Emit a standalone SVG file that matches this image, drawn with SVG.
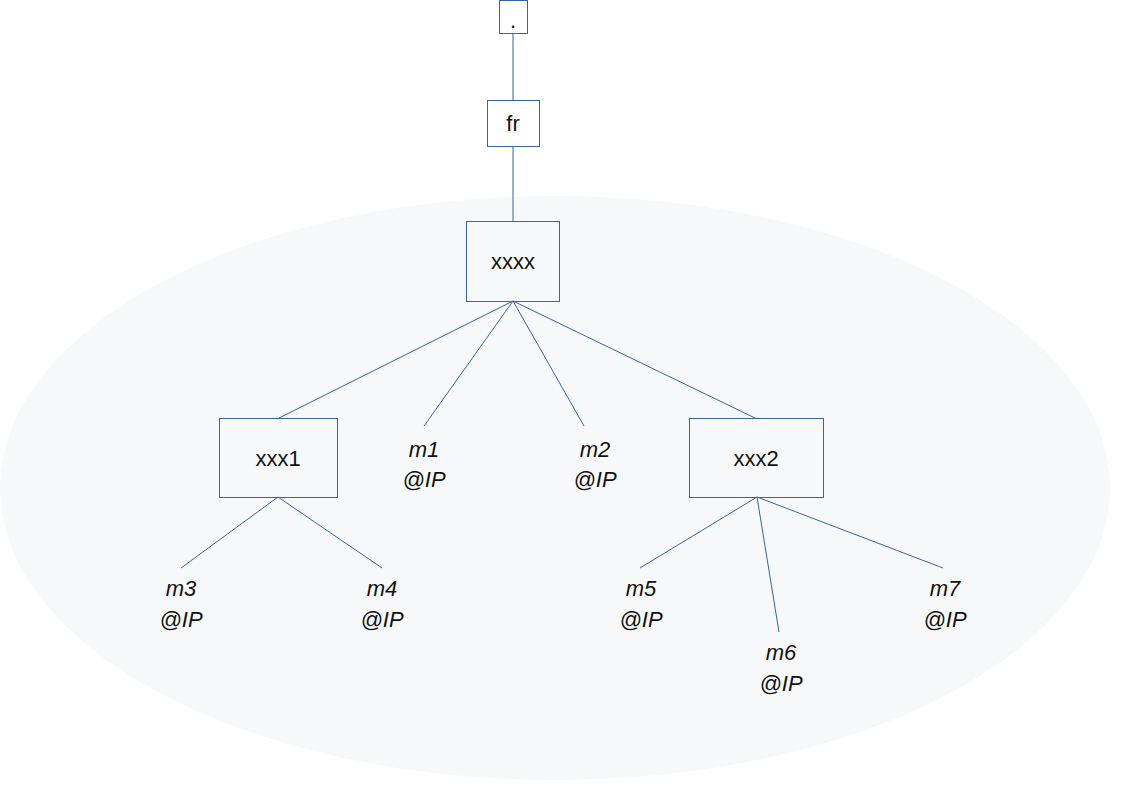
<svg xmlns="http://www.w3.org/2000/svg" width="1123" height="794" viewBox="0 0 1123 794">
<style>
.b{fill:#fff;stroke:#3465a4;stroke-width:1}
.bt{fill:none;stroke:#3465a4;stroke-width:1}
.t{font-family:"Liberation Sans",Arial,sans-serif;font-size:22px;fill:#111;text-anchor:middle}
.i{font-style:italic}
#edges line{stroke:#3465a4;stroke-width:1}
</style>
<rect width="1123" height="794" fill="#fff"/>
<ellipse cx="555" cy="488" rx="555" ry="292" fill="#f7f8fa"/>
<g id="edges">
<line x1="513" y1="33" x2="513" y2="100"/>
<line x1="513" y1="146" x2="513" y2="221"/>
<line x1="513" y1="301" x2="279" y2="418"/>
<line x1="513" y1="301" x2="424" y2="426"/>
<line x1="513" y1="301" x2="584" y2="426"/>
<line x1="513" y1="301" x2="755" y2="418"/>
<line x1="278" y1="497" x2="181" y2="568"/>
<line x1="278" y1="497" x2="382" y2="568"/>
<line x1="757" y1="497" x2="640" y2="568"/>
<line x1="757" y1="497" x2="779" y2="632"/>
<line x1="757" y1="497" x2="943" y2="568"/>
</g>
<g id="root"><rect class="b" x="499.5" y="0.5" width="28" height="33"/><text class="t" x="513" y="28">.</text></g>
<g id="fr"><rect class="b" x="487.5" y="100.5" width="52" height="46"/><text class="t" x="513" y="131">fr</text></g>
<g id="xxxx"><rect class="bt" x="466.5" y="221.5" width="93" height="80"/><text class="t" x="513" y="269">xxxx</text></g>
<g id="xxx1"><rect class="bt" x="219.5" y="418.5" width="118" height="79"/><text class="t" x="278" y="466">xxx1</text></g>
<g id="xxx2"><rect class="bt" x="689.5" y="418.5" width="134" height="79"/><text class="t" x="756" y="466">xxx2</text></g>
<g id="m1"><text class="t i" x="424" y="457">m1</text><text class="t i" x="424" y="487">@IP</text></g>
<g id="m2"><text class="t i" x="595" y="457">m2</text><text class="t i" x="595" y="487">@IP</text></g>
<g id="m3"><text class="t i" x="181" y="596">m3</text><text class="t i" x="181" y="627">@IP</text></g>
<g id="m4"><text class="t i" x="382" y="596">m4</text><text class="t i" x="382" y="627">@IP</text></g>
<g id="m5"><text class="t i" x="641" y="596">m5</text><text class="t i" x="641" y="627">@IP</text></g>
<g id="m6"><text class="t i" x="781" y="660">m6</text><text class="t i" x="781" y="691">@IP</text></g>
<g id="m7"><text class="t i" x="945" y="596">m7</text><text class="t i" x="945" y="627">@IP</text></g>
</svg>
